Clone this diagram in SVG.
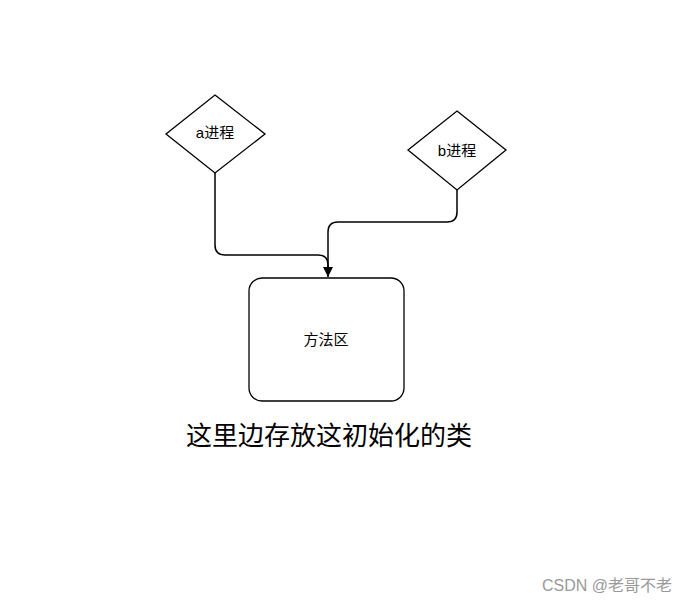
<svg xmlns="http://www.w3.org/2000/svg" width="686" height="605" viewBox="0 0 686 605">
<defs>
<style>
.shape{fill:#fff;stroke:#000;stroke-width:1.3}
.lbl{font-family:"Liberation Sans","Noto Sans CJK SC",sans-serif;font-size:15px;fill:#000;text-anchor:middle}
.conn{fill:none;stroke:#000;stroke-width:1.5}
</style>
<marker id="arr" viewBox="0 0 10 10" refX="10" refY="5" markerWidth="10" markerHeight="10" markerUnits="userSpaceOnUse" orient="auto">
<path d="M0,0 L10,5 L0,10 Z" fill="#000"/>
</marker>
</defs>
<rect width="686" height="605" fill="#fff"/>
<g id="connectors">
<path class="conn" d="M215,173 V245 Q215,255 225,255 H318 Q328,255 328,265 V267"/>
<path class="conn" d="M457,190 V212 Q457,222 447,222 H338 Q328,222 328,232 V277" marker-end="url(#arr)"/>
</g>
<g id="node-a">
<polygon class="shape" points="215,95 265,134 215,173 166,134"/>
<text class="lbl" x="215" y="138">a进程</text>
</g>
<g id="node-b">
<polygon class="shape" points="457,111 506,150 457,190 408,150"/>
<text class="lbl" x="457" y="156">b进程</text>
</g>
<g id="node-method">
<rect class="shape" x="249" y="278" width="155" height="123" rx="13"/>
<text class="lbl" x="326" y="345">方法区</text>
</g>
<text x="329" y="445" font-family="'Noto Sans CJK SC',sans-serif" font-size="26" text-anchor="middle" fill="#000">这里边存放这初始化的类</text>
<text x="672" y="591" font-family="'Liberation Sans','Noto Sans CJK SC',sans-serif" font-size="16" text-anchor="end" fill="#999">CSDN @老哥不老</text>
</svg>
